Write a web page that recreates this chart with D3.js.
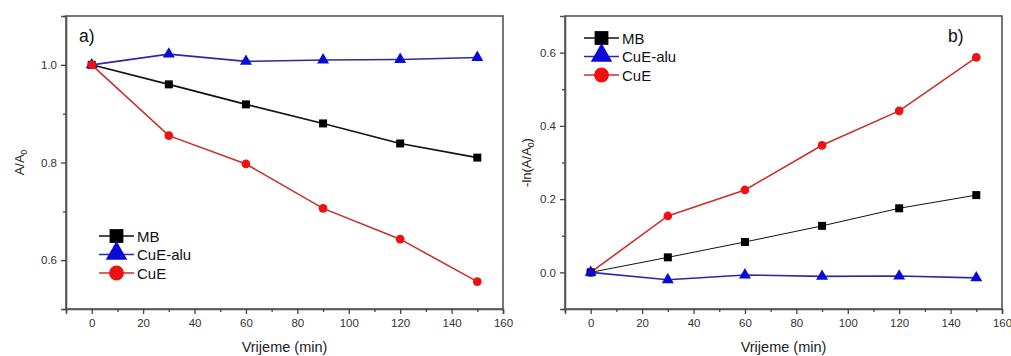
<!DOCTYPE html>
<html>
<head>
<meta charset="utf-8">
<script src="https://cdn.jsdelivr.net/npm/d3@7"></script>
<style>
  body { margin: 0; background: #fff; }
  svg text { font-family: "Liberation Sans", Arial, sans-serif; }
</style>
</head>
<body>
<div id="chart"></div>
<script>
// data
var times = [0, 30, 60, 90, 120, 150];
var seriesNames = ["MB", "CuE-alu", "CuE"];

// panel a) A/A0
var aMB    = [1.0, 0.960, 0.919, 0.880, 0.839, 0.810];
var aAlu   = [1.0, 1.022, 1.007, 1.010, 1.011, 1.015];
var aCuE   = [1.0, 0.855, 0.797, 0.706, 0.643, 0.556];

// panel b) -ln(A/A0)
var bMB    = [0, 0.041, 0.083, 0.127, 0.175, 0.211];
var bAlu   = [0, -0.020, -0.007, -0.011, -0.010, -0.015];
var bCuE   = [0, 0.154, 0.225, 0.347, 0.441, 0.587];

var xTicks = [0, 20, 40, 60, 80, 100, 120, 140, 160];
var aYTicks = [0.6, 0.8, 1.0];
var bYTicks = [0.0, 0.2, 0.4, 0.6];

var width = 1011, height = 356;

var svg = d3.select("#chart").append("svg")
  .attr("width", width)
  .attr("height", height);

var styles = {
  "MB":      { line: "#111", fill: "#000", shape: d3.symbolSquare, size: 64, legSize: 190 },
  "CuE-alu": { line: "#2a2aa8", fill: "#0a0ad8", shape: d3.symbolTriangle, size: 62, legSize: 200 },
  "CuE":     { line: "#c8302c", fill: "#ee1111", shape: d3.symbolCircle, size: 60, legSize: 175 }
};

function drawPanel(opt) {
  var g = svg.append("g");
  var x = d3.scaleLinear().domain([-10, 160]).range([opt.left, opt.right]);
  var y = d3.scaleLinear().domain(opt.yDomain).range([opt.bottom, opt.top]);

  // frame
  g.append("rect")
    .attr("x", opt.left).attr("y", opt.top)
    .attr("width", opt.right - opt.left).attr("height", opt.bottom - opt.top)
    .attr("fill", "none").attr("stroke", "#555").attr("stroke-width", 1.6);

  // x axis
  g.append("g")
    .attr("transform", "translate(0," + opt.bottom + ")")
    .call(d3.axisBottom(x).tickValues(xTicks).tickSize(5).tickPadding(5).tickFormat(d3.format("d")));
  g.append("g")
    .attr("transform", "translate(0," + opt.bottom + ")")
    .call(d3.axisBottom(x).tickValues(d3.range(-10, 161, 20)).tickSize(3).tickFormat(""))
    .select(".domain").remove();

  // y axis
  g.append("g")
    .attr("transform", "translate(" + opt.left + ",0)")
    .call(d3.axisLeft(y).tickValues(opt.yTicks).tickSize(5).tickPadding(4).tickFormat(d3.format(".1f")));
  g.append("g")
    .attr("transform", "translate(" + opt.left + ",0)")
    .call(d3.axisLeft(y).tickValues(opt.yMinor).tickSize(3).tickFormat(""))
    .select(".domain").remove();

  g.selectAll(".domain").attr("stroke", "#555").attr("stroke-width", 1.6);
  g.selectAll(".tick line").attr("stroke", "#444").attr("stroke-width", 1.3);
  g.selectAll(".tick text").attr("font-size", 11.5).attr("fill", "#333")
    .style("font-family", "Liberation Sans, Arial, sans-serif");

  // series
  opt.series.forEach(function(s) {
    var st = styles[s.name];
    var pts = times.map(function(t, i) { return [t, s.values[i]]; });
    g.append("path")
      .datum(pts)
      .attr("fill", "none")
      .attr("stroke", st.line)
      .attr("stroke-width", s.name === "MB" && opt.thinMB ? 1 : 1.6)
      .attr("d", d3.line().x(function(d) { return x(d[0]); }).y(function(d) { return y(d[1]); }));
    g.selectAll(null)
      .data(pts)
      .enter().append("path")
      .attr("transform", function(d) { return "translate(" + x(d[0]) + "," + y(d[1]) + ")"; })
      .attr("d", d3.symbol().type(st.shape).size(st.size))
      .attr("fill", st.fill);
  });

  // legend
  var leg = g.append("g").attr("transform", "translate(" + opt.legX + "," + opt.legY + ")");
  seriesNames.forEach(function(name, i) {
    var st = styles[name];
    var row = leg.append("g").attr("transform", "translate(0," + (i * 18.5) + ")");
    row.append("line").attr("x1", 0).attr("x2", 35).attr("y1", 0).attr("y2", 0)
      .attr("stroke", st.line).attr("stroke-width", 1.6);
    row.append("path")
      .attr("transform", "translate(17.5," + (name === "CuE-alu" ? -1 : 0) + ")")
      .attr("d", d3.symbol().type(st.shape).size(st.legSize))
      .attr("fill", st.fill);
    row.append("text").attr("x", 38).attr("y", 5.5)
      .attr("font-size", 15).attr("fill", "#111").text(name);
  });

  // panel tag
  g.append("text").attr("x", opt.tagX).attr("y", 42)
    .attr("font-size", 17.5).attr("fill", "#111").text(opt.tag);

  // axis titles
  g.append("text")
    .attr("x", (opt.left + opt.right) / 2).attr("y", 352)
    .attr("text-anchor", "middle").attr("font-size", 14.5).attr("fill", "#222")
    .text("Vrijeme (min)");

  var yt = g.append("text")
    .attr("transform", "translate(" + opt.yTitleX + "," + ((opt.top + opt.bottom) / 2) + ") rotate(-90)")
    .attr("text-anchor", "middle").attr("font-size", 13).attr("fill", "#222");
  yt.append("tspan").text(opt.yTitle[0]);
  yt.append("tspan").attr("font-size", 8.5).attr("dy", 3).text("0");
  if (opt.yTitle[1]) yt.append("tspan").attr("dy", -3).text(opt.yTitle[1]);
}

drawPanel({
  left: 66, right: 503, top: 16, bottom: 309,
  yDomain: [0.5, 1.1], yTicks: aYTicks, yMinor: [0.5, 0.7, 0.9, 1.1],
  series: [{ name: "MB", values: aMB }, { name: "CuE-alu", values: aAlu }, { name: "CuE", values: aCuE }],
  legX: 99, legY: 236, tag: "a)", tagX: 79, yTitleX: 24, yTitle: ["A/A", ""]
});

drawPanel({
  left: 565, right: 1002, top: 16, bottom: 309,
  yDomain: [-0.1, 0.7], yTicks: bYTicks, yMinor: [-0.1, 0.1, 0.3, 0.5],
  series: [{ name: "CuE", values: bCuE }, { name: "MB", values: bMB }, { name: "CuE-alu", values: bAlu }],
  thinMB: true,
  legX: 584, legY: 38, tag: "b)", tagX: 948, yTitleX: 531, yTitle: ["-ln(A/A", ")"]
});
</script>
</body>
</html>
